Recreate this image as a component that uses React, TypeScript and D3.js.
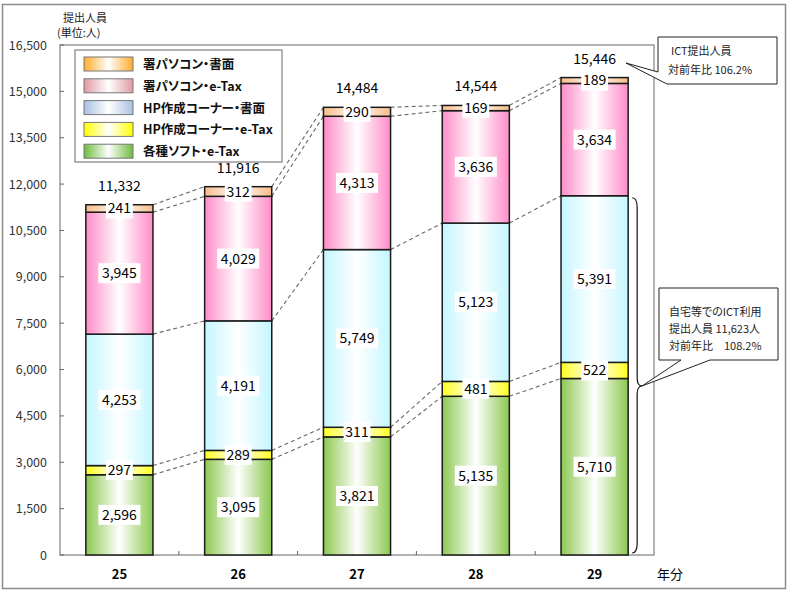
import React from "react";
import * as d3 from "d3";

const years = ["25", "26", "27", "28", "29"];
const seriesNames = [
  "各種ソフト・e-Tax",
  "HP作成コーナー・e-Tax",
  "HP作成コーナー・書面",
  "署パソコン・e-Tax",
  "署パソコン・書面",
];
const softETax = [2596, 3095, 3821, 5135, 5710];
const hpETax = [297, 289, 311, 481, 522];
const hpPaper = [4253, 4191, 5749, 5123, 5391];
const pcETax = [3945, 4029, 4313, 3636, 3634];
const pcPaper = [241, 312, 290, 169, 189];
const totals = [11332, 11916, 14484, 14544, 15446];
const yTicks = [0, 1500, 3000, 4500, 6000, 7500, 9000, 10500, 12000, 13500, 15000, 16500];

const barColors = ["#8cc850", "#ffff20", "#c4f6ff", "#ff8cc8", "#f8bc88"];
const legendColors = ["#6cbc3c", "#ffff00", "#a8c0e0", "#e09aa4", "#ffac2c"];
const legendOrder = [4, 3, 2, 1, 0];

const FONT = "'Noto Sans CJK JP', 'Noto Sans', sans-serif";

export default function App() {
  const W = 790, H = 593;
  const series = [softETax, hpETax, hpPaper, pcETax, pcPaper];
  const x = d3.scaleBand<string>().domain(years).range([60, 654]).paddingInner(0.435).paddingOuter(0.2175);
  const slot = d3.scaleBand<string>().domain(years).range([60, 654]);
  const y = d3.scaleLinear().domain([0, 16500]).range([555, 45]);
  const fmt = d3.format(",");

  const table = years.map((yr, i) => {
    const row: any = { year: yr };
    series.forEach((s, k) => (row["s" + k] = s[i]));
    return row;
  });
  const stacked = d3.stack<any>().keys(series.map((_, k) => "s" + k))(table);

  const bw = x.bandwidth();

  const connectors: JSX.Element[] = [];
  for (let i = 0; i < years.length - 1; i++) {
    stacked.forEach((layer, k) => {
      const v0 = layer[i][1];
      const v1 = layer[i + 1][1];
      connectors.push(
        <line
          key={`c${i}-${k}`}
          x1={x(years[i])! + bw}
          y1={y(v0)}
          x2={x(years[i + 1])!}
          y2={y(v1)}
          stroke="#6a6a6a"
          strokeWidth={1.1}
          strokeDasharray="4,3"
        />
      );
    });
  }

  const last = years.length - 1;
  const braceTop = y(stacked[2][last][1]) + 2;
  const braceBot = y(0) - 2;
  const bx = x(years[last])! + bw + 4;
  const bmid = 386;
  const bracePath = `M${bx},${braceTop} Q${bx + 5},${braceTop} ${bx + 5},${braceTop + 10} L${bx + 5},${bmid - 8} Q${bx + 5},${bmid} ${bx + 10},${bmid} Q${bx + 5},${bmid} ${bx + 5},${bmid + 8} L${bx + 5},${braceBot - 10} Q${bx + 5},${braceBot} ${bx},${braceBot}`;

  return (
    <svg
      width={W}
      height={H}
      style={{ display: "block", position: "absolute", left: 0, top: 0, fontFeatureSettings: "'palt'" }}
      fontFamily={FONT}
    >
      <defs>
        {barColors.map((c, k) => (
          <linearGradient key={k} id={`bg${k}`} x1="0" x2="1" y1="0" y2="0">
            <stop offset="0" stopColor={c} />
            <stop offset="0.5" stopColor="#ffffff" />
            <stop offset="1" stopColor={c} />
          </linearGradient>
        ))}
        {legendColors.map((c, k) => (
          <linearGradient key={k} id={`lg${k}`} x1="0" x2="1" y1="0" y2="0">
            <stop offset="0" stopColor={c} />
            <stop offset="0.5" stopColor="#ffffff" />
            <stop offset="1" stopColor={c} />
          </linearGradient>
        ))}
      </defs>
      <rect x={0} y={0} width={W} height={H} fill="#fff" />
      <rect x={2.5} y={4.5} width={783} height={584} fill="none" stroke="#8c8c8c" strokeWidth={1.5} />

      <text x={63} y={22} fontSize={11} fill="#222">提出人員</text>
      <text x={57} y={37} fontSize={11} fill="#222">(単位:人)</text>

      <rect x={60} y={45} width={594} height={510} fill="none" stroke="#9a9a9a" strokeWidth={1.5} />

      {yTicks.map((t) => (
        <g key={t}>
          <line x1={60} x2={64} y1={y(t)} y2={y(t)} stroke="#666" />
          <text x={47} y={y(t) + 4.5} textAnchor="end" fontSize={12.5} fill="#333">{fmt(t)}</text>
        </g>
      ))}
      {years.slice(1).map((yr) => (
        <line key={yr} x1={slot(yr)!} x2={slot(yr)!} y1={551} y2={555} stroke="#666" />
      ))}

      {connectors}

      {stacked.map((layer, k) =>
        layer.map((d, i) => (
          <rect
            key={`b${k}-${i}`}
            x={x(years[i])!}
            y={y(d[1])}
            width={bw}
            height={y(d[0]) - y(d[1])}
            fill={`url(#bg${k})`}
            stroke="#1a1a1a"
            strokeWidth={1.5}
          />
        ))
      )}

      {stacked.map((layer, k) =>
        layer.map((d, i) => {
          const cx = x(years[i])! + bw / 2;
          const cy = (y(d[0]) + y(d[1])) / 2;
          const label = fmt(series[k][i]);
          const tw = label.length * 7.6 + 4;
          return (
            <g key={`l${k}-${i}`}>
              <rect x={cx - tw / 2} y={cy - 10} width={tw} height={20} fill="#fff" />
              <text x={cx} y={cy + 5} textAnchor="middle" fontSize={14} fill="#000">{label}</text>
            </g>
          );
        })
      )}

      {totals.map((t, i) => (
        <text key={`t${i}`} x={x(years[i])! + bw / 2} y={y(t) - 14} textAnchor="middle" fontSize={14} fill="#000">
          {fmt(t)}
        </text>
      ))}

      {years.map((yr) => (
        <text key={yr} x={x(yr)! + bw / 2} y={579} textAnchor="middle" fontSize={13} fontWeight="bold" fill="#000">{yr}</text>
      ))}
      <text x={657} y={579} fontSize={13} fill="#000">年分</text>

      <path d={bracePath} fill="none" stroke="#111" strokeWidth={1.2} />

      <path d="M658,37 H777 V84 H667 L626,63 L658,72 Z" fill="#fff" stroke="#222" strokeWidth={1} />
      <text x={671} y={55} fontSize={11} fill="#222">ICT提出人員</text>
      <text x={668} y={74} fontSize={11} fill="#222">対前年比 106.2%</text>

      <path d="M659,288 H778 V360 H710 L642,386 L681,360 H659 Z" fill="#fff" stroke="#222" strokeWidth={1} />
      <text x={669} y={316} fontSize={11} fill="#222">自宅等でのICT利用</text>
      <text x={669} y={333} fontSize={11} fill="#222">提出人員 11,623人</text>
      <text x={669} y={350} fontSize={11} fill="#222">対前年比　108.2%</text>

      <rect x={75} y={50} width={207} height={112} fill="#fff" stroke="#808080" strokeWidth={1.2} />
      {legendOrder.map((k, j) => {
        const cy = 64 + j * 21.8;
        return (
          <g key={`lg${k}`}>
            <rect x={84} y={cy - 7} width={49} height={14} fill={`url(#lg${k})`} stroke="#777" strokeWidth={1} />
            <text x={143} y={cy + 5} fontSize={12.5} fontWeight="bold" fill="#111">{seriesNames[k]}</text>
          </g>
        );
      })}
    </svg>
  );
}
